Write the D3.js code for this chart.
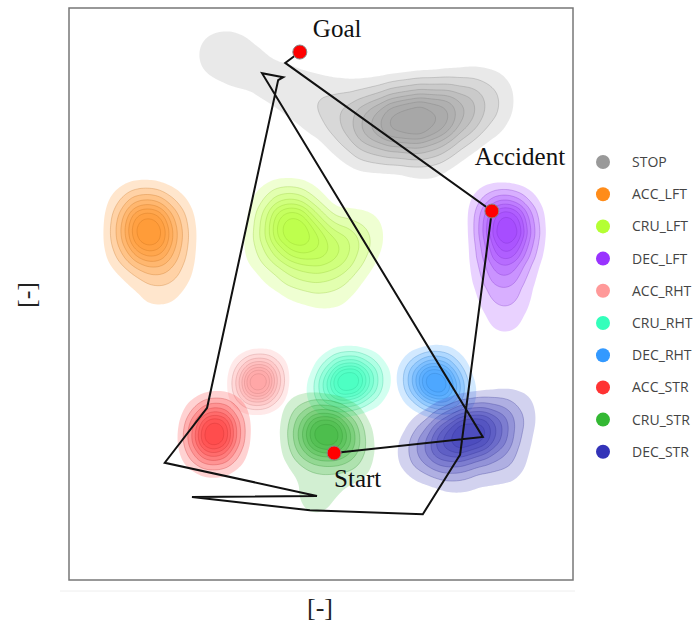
<!DOCTYPE html>
<html lang="en">
<head>
  <meta charset="UTF-8">
  <title>Driving states density map with trajectory</title>
  <script src="https://d3js.org/d3.v7.min.js"></script>
  <style>
    body
    {
      margin: 0;
      padding: 0;
      background-color: #fff;
    }

    .event-label
    {
      font-family: "Liberation Serif", "Times New Roman", serif;
      font-size: 25px;
      fill: #111;
    }

    .axis-label
    {
      font-family: "Liberation Serif", "Times New Roman", serif;
      font-size: 26px;
      fill: #222;
    }

    .legend-text
    {
      font-family: "Open Sans", Arial, sans-serif;
      font-size: 14px;
      fill: #444;
    }
  </style>
</head>
<body>
  <svg width="694" height="629"></svg>
  <script>
    // driving-state classes, in legend order
    const classes = ["STOP", "ACC_LFT", "CRU_LFT", "DEC_LFT", "ACC_RHT", "CRU_RHT", "DEC_RHT", "ACC_STR", "CRU_STR", "DEC_STR"];
    const classColors = ["#999999", "#ff8c1a", "#b4ff33", "#9933ff", "#ff9999", "#33ffbb", "#3399ff", "#ff3333", "#33b833", "#3333b8"];

    // sample points per class: [x, y, weight], unitless [-] coordinates
    const stopPts = [[66.7, 80.5, 5], [72.6, 81.0, 4], [60.7, 79.7, 3], [77.6, 82.0, 2], [53.8, 81.5, 1.2],
      [46.8, 84.3, 0.6], [40.9, 87.1, 0.4], [35.0, 89.6, 0.35], [29.0, 91.7, 0.3], [31.5, 92.3, 0.35],
      [82.5, 83.9, 1], [70.6, 75.5, 1.2], [60.0, 76.0, 0.6], [20.2, 92.1, 0.05]];
    const accLftPts = [[15.7, 61.5, 4], [16.1, 58.6, 2], [14.8, 64.2, 1.5], [18.6, 55.6, 1], [17.7, 50.8, 0.4], [12.5, 58.0, 0.5], [20.6, 62.1, 0.5]];
    const cruLftPts = [[43.8, 62.1, 3], [46.8, 59.4, 2], [52.8, 57.7, 1.8], [45.8, 54.3, 0.9], [40.3, 57.8, 0.6], [51.8, 51.7, 0.5], [57.7, 60.2, 0.5], [43.4, 65.4, 0.6]];
    const decLftPts = [[87.1, 62.6, 4], [86.5, 58.6, 2.5], [86.1, 54.2, 1.5], [86.5, 49.5, 0.7], [86.5, 44.4, 0.25], [84.9, 64.5, 0.8], [88.5, 58.6, 0.6]];
    const accRhtPts = [[37.5, 34.6, 1], [37.1, 33.4, 0.5], [38.1, 36.0, 0.5]];
    const cruRhtPts = [[55.4, 34.6, 2], [52.4, 33.2, 0.9], [58.6, 35.0, 0.9], [54.8, 36.6, 0.5]];
    const decRhtPts = [[72.6, 34.4, 2], [75.4, 32.8, 1], [70.0, 35.3, 0.7], [73.6, 37.0, 0.5]];
    const accStrPts = [[29.0, 25.9, 3], [28.8, 23.0, 1.5], [29.4, 28.4, 1], [26.6, 24.8, 0.4]];
    const cruStrPts = [[50.8, 25.9, 3], [54.0, 24.8, 1.5], [48.0, 23.6, 1], [49.4, 17.2, 0.3], [48.9, 13.2, 0.2], [55.6, 20.2, 0.4], [47.0, 28.4, 0.5]];
    const decStrPts = [[80.0, 25.9, 3], [75.2, 24.5, 2], [84.5, 26.6, 1.2], [70.8, 22.4, 0.8], [85.5, 21.2, 0.6], [88.0, 29.2, 0.4], [77.0, 20.0, 0.7]];
    const classSamples = [stopPts, accLftPts, cruLftPts, decLftPts, accRhtPts, cruRhtPts, decRhtPts, accStrPts, cruStrPts, decStrPts];

    // trajectory from Start to Goal
    const pathPts = [[52.6, 22.2], [82.1, 25.0], [38.3, 88.6], [42.5, 87.9], [41.5, 87.4], [27.4, 30.1], [19.0, 20.5],
      [49.2, 14.7], [24.4, 14.5], [47.8, 12.2], [70.2, 11.5], [77.6, 21.9], [83.9, 64.5], [42.9, 90.4], [45.8, 92.3]];
    const eventNames = ["Start", "Accident", "Goal"];
    const eventPts = [[52.6, 22.2], [83.9, 64.5], [45.8, 92.3]];

    const width = 694;
    const height = 629;
    const margin = { top: 8, right: 121, bottom: 49, left: 69 };

    const svg = d3.select("svg")
      .attr("viewBox", [0, 0, width, height]);

    const x = d3.scaleLinear().domain([0, 100]).range([margin.left, width - margin.right]);
    const y = d3.scaleLinear().domain([0, 100]).range([height - margin.bottom, margin.top]);

    // kernel widths (px) per class
    const bandwidths = [19, 17, 17, 15, 12, 13, 13, 14, 15, 16];
    const levels = [0.05, 0.14, 0.25, 0.37, 0.49, 0.61, 0.73, 0.86];

    const densityG = svg.append("g");

    classes.forEach((name, i) => {
      const color = classColors[i];
      const density = d3.contourDensity()
        .x(d => x(d[0]))
        .y(d => y(d[1]))
        .weight(d => d[2])
        .size([width, height])
        .cellSize(2)
        .bandwidth(bandwidths[i]);

      let contours;
      if (density.contours) {
        const cf = density.contours(classSamples[i]);
        contours = levels.map(l => cf(l * cf.max));
      } else {
        const all = density.thresholds(60)(classSamples[i]);
        const max = d3.max(all, c => c.value);
        contours = density.thresholds(levels.map(l => l * max))(classSamples[i]);
      }

      const g = densityG.append("g").attr("class", "density " + name);
      g.selectAll("path")
        .data(contours)
        .join("path")
        .attr("d", d3.geoPath())
        .attr("fill", color)
        .attr("fill-opacity", 0.22)
        .attr("stroke", (d, j) => j === 0 ? "none" : d3.color(color).darker(0.8))
        .attr("stroke-opacity", 0.4)
        .attr("stroke-width", 0.7);
    });

    // frame
    svg.append("rect")
      .attr("x", x(0))
      .attr("y", y(100))
      .attr("width", x(100) - x(0))
      .attr("height", y(0) - y(100))
      .attr("fill", "none")
      .attr("stroke", "#777")
      .attr("stroke-width", 1.5);

    svg.append("line")
      .attr("x1", 60).attr("x2", x(100) + 2)
      .attr("y1", 591).attr("y2", 591)
      .attr("stroke", "#eee")
      .attr("stroke-width", 1);

    // trajectory
    svg.append("path")
      .datum(pathPts)
      .attr("d", d3.line().x(d => x(d[0])).y(d => y(d[1])))
      .attr("fill", "none")
      .attr("stroke", "#111")
      .attr("stroke-width", 2)
      .attr("stroke-linejoin", "miter");

    svg.append("g")
      .selectAll("circle")
      .data(eventPts)
      .join("circle")
      .attr("cx", d => x(d[0]))
      .attr("cy", d => y(d[1]))
      .attr("r", 7)
      .attr("fill", "#ff0000")
      .attr("stroke", "#888")
      .attr("stroke-width", 1);

    const labelOffsets = [[0, 34], [-17, -46], [13, -15]];
    svg.append("g")
      .selectAll("text")
      .data(eventNames)
      .join("text")
      .attr("class", "event-label")
      .attr("x", (d, i) => x(eventPts[i][0]) + labelOffsets[i][0])
      .attr("y", (d, i) => y(eventPts[i][1]) + labelOffsets[i][1])
      .text(d => d);

    // axis labels
    svg.append("text")
      .attr("class", "axis-label")
      .attr("x", 320)
      .attr("y", 616)
      .attr("text-anchor", "middle")
      .text("[-]");

    svg.append("text")
      .attr("class", "axis-label")
      .attr("transform", "translate(35,295) rotate(-90)")
      .attr("text-anchor", "middle")
      .text("[-]");

    // legend
    const legend = svg.append("g")
      .attr("transform", "translate(603,162)");

    const item = legend.selectAll("g")
      .data(classes)
      .join("g")
      .attr("transform", (d, i) => `translate(0,${i * 32.2})`);

    item.append("circle")
      .attr("r", 7)
      .attr("fill", (d, i) => classColors[i]);

    item.append("text")
      .attr("class", "legend-text")
      .attr("x", 29)
      .attr("y", 5)
      .text(d => d);
  </script>
</body>
</html>
